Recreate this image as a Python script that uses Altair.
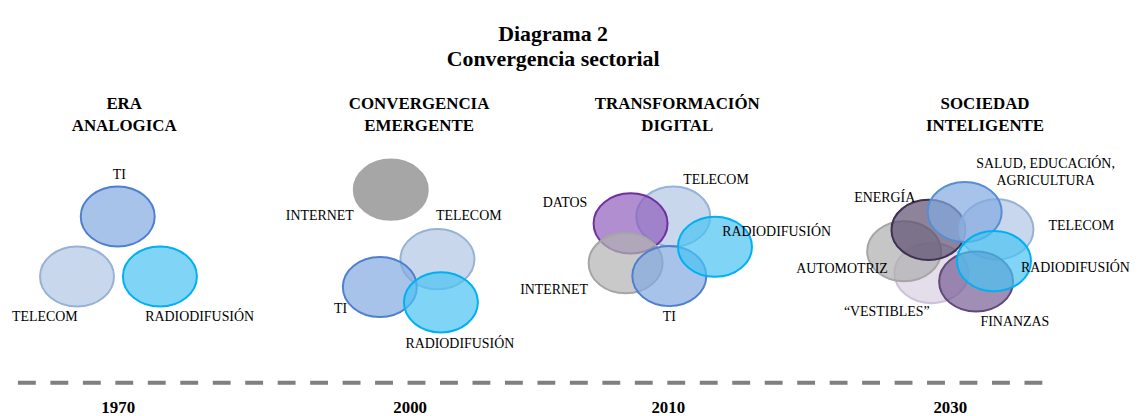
import altair as alt
import pandas as pd

# ---------------- data (page-pixel coordinates) ----------------
ell_style = ["ti", "telecom", "radio",
             "internet_solid", "telecom", "ti", "radio",
             "telecom", "datos", "internet", "ti", "radio",
             "vestibles", "automotriz", "energia", "telecom", "salud", "finanzas", "radio"]
ell_x = [118.5, 77.5, 161,
         393.5, 440.5, 382.5, 444,
         678, 635, 630, 674, 720,
         938, 910.5, 935, 1003.5, 971.5, 983, 1001]
ell_y = [216.5, 277, 277,
         189.5, 259.5, 287.5, 303,
         216.5, 223.5, 263.5, 276.5, 247,
         273.5, 251.5, 230, 229.5, 212, 282, 261.5]

label_text = ["TI", "TELECOM", "RADIODIFUSIÓN",
              "INTERNET", "TELECOM", "TI", "RADIODIFUSIÓN",
              "DATOS", "TELECOM", "RADIODIFUSIÓN", "INTERNET", "TI",
              "SALUD, EDUCACIÓN,", "AGRICULTURA", "ENERGÍA", "TELECOM", "AUTOMOTRIZ",
              "RADIODIFUSIÓN", "\u201cVESTIBLES\u201d", "FINANZAS"]
label_x = [120, 45, 201,
           322, 472, 343, 463,
           569, 721, 782, 558, 674,
           1053, 1053, 891, 1089, 848, 1083, 893, 1022]
label_y = [175, 318, 318,
           216, 216, 310, 345,
           203, 180, 232, 291, 318,
           164, 181, 198, 226, 269, 268, 313, 323]

head_text = ["ERA", "ANALOGICA", "CONVERGENCIA", "EMERGENTE",
             "TRANSFORMACIÓN", "DIGITAL", "SOCIEDAD", "INTELIGENTE"]
head_x = [125, 125, 422, 422, 682, 682, 992, 992]
head_y = [103, 125, 103, 125, 103, 125, 103, 125]

title_text = ["Diagrama 2", "Convergencia sectorial"]
title_x = [557, 557]
title_y = [40, 65]

years = ["1970", "2000", "2010", "2030"]
year_x = [119, 413, 673, 957]
year_y = [409, 409, 409, 409]

timeline_x = [18]
timeline_x2 = [1050]
timeline_y = [384]

# ---------------- styles ----------------
style_names = ["ti", "telecom", "radio", "internet_solid", "internet", "datos",
               "energia", "automotriz", "vestibles", "finanzas", "salud"]
style_fill = ["#83A9E1", "#B0C6E4", "#4AC3F4", "#808080", "#B2B2B2", "#8E5EBC",
              "#5C4F70", "#AEAEAE", "#D8D0E2", "#775E94", "#83A9E1"]
style_stroke = ["#4F7FCF", "#95B3D7", "#00B0F0", "#A6A6A6", "#A6A6A6", "#7030A0",
                "#3F3151", "#A6A6A6", "#CCC0DA", "#5F497A", "#558ED5"]

ELLIPSE = ("M1,0C1,0.449 0.5523,0.813 0,0.813C-0.5523,0.813 -1,0.449 -1,0"
           "C-1,-0.449 -0.5523,-0.813 0,-0.813C0.5523,-0.813 1,-0.449 1,0Z")

W, H = 1133, 408
xs = alt.Scale(domain=[8, 8 + W], nice=False, zero=False)
ys = alt.Scale(domain=[8, 8 + H], nice=False, zero=False, reverse=True)

ell_df = pd.DataFrame({"style": ell_style, "x": ell_x, "y": ell_y,
                       "ord": list(range(len(ell_x)))})
lab_df = pd.DataFrame({"t": label_text, "x": label_x, "y": label_y})
head_df = pd.DataFrame({"t": head_text, "x": head_x, "y": head_y})
title_df = pd.DataFrame({"t": title_text, "x": title_x, "y": title_y})
year_df = pd.DataFrame({"t": years, "x": year_x, "y": year_y})
tl_df = pd.DataFrame({"x": timeline_x, "x2": timeline_x2, "y": timeline_y})

X = lambda: alt.X("x:Q", scale=xs, axis=None)
Y = lambda: alt.Y("y:Q", scale=ys, axis=None)

ellipses = alt.Chart(ell_df).mark_point(
    shape=ELLIPSE, size=5550, filled=True, fillOpacity=0.7, strokeOpacity=1,
    strokeWidth=2
).encode(
    x=X(), y=Y(),
    color=alt.Color("style:N", scale=alt.Scale(domain=style_names, range=style_fill), legend=None),
    stroke=alt.Stroke("style:N", scale=alt.Scale(domain=style_names, range=style_stroke), legend=None),
    order=alt.Order("ord:Q"),
)

labels = alt.Chart(lab_df).mark_text(
    font="Liberation Serif", fontSize=14, color="#000000", baseline="middle", align="center"
).encode(x=X(), y=Y(), text="t:N")

heads = alt.Chart(head_df).mark_text(
    font="Liberation Serif", fontSize=17, fontWeight="bold", color="#000000",
    baseline="middle", align="center"
).encode(x=X(), y=Y(), text="t:N")

title = alt.Chart(title_df).mark_text(
    font="Liberation Serif", fontSize=22, fontWeight="bold", color="#000000",
    baseline="alphabetic", align="center"
).encode(x=X(), y=Y(), text="t:N")

yrs = alt.Chart(year_df).mark_text(
    font="Liberation Serif", fontSize=17, fontWeight="bold", color="#000000",
    baseline="middle", align="center"
).encode(x=X(), y=Y(), text="t:N")

timeline = alt.Chart(tl_df).mark_rule(
    color="#7F7F7F", strokeWidth=4, strokeDash=[18, 14.7]
).encode(x=X(), x2="x2:Q", y=Y())

chart = alt.layer(timeline, ellipses, labels, heads, title, yrs).properties(
    width=W, height=H, padding=0, background="#FFFFFF"
).configure_view(strokeWidth=0)

chart.save("out.html", embed_options={"renderer": "svg", "actions": False})
